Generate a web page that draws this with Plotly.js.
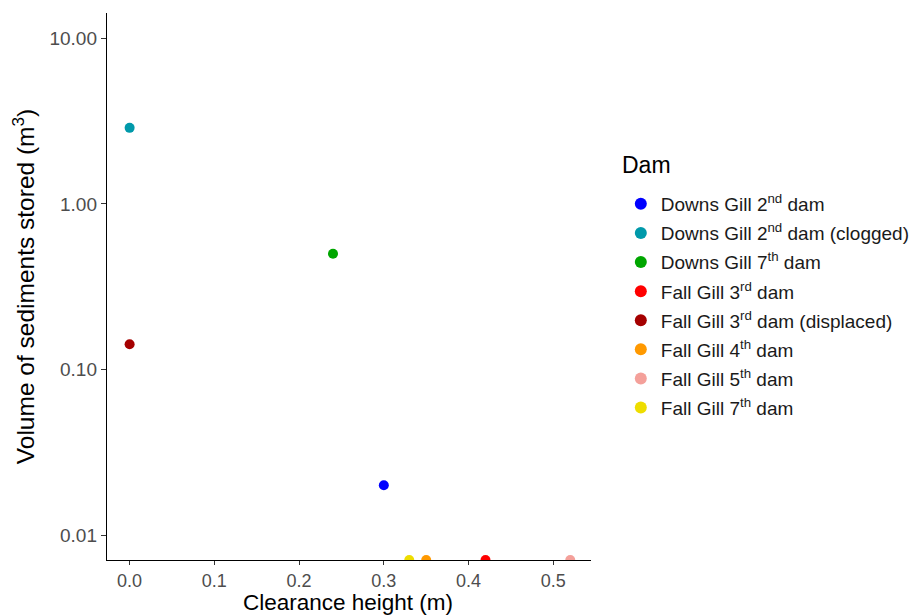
<!DOCTYPE html>
<html>
<head>
<meta charset="utf-8">
<script src="https://cdn.plot.ly/plotly-3.0.1.min.js"></script>
<style>html,body{margin:0;padding:0;background:#fff;}#chart{width:917px;height:616px;}</style>
</head>
<body>
<div id="chart"></div>
<script>
// Data
var dams = [
  "Downs Gill 2<sup>nd</sup> dam",
  "Downs Gill 2<sup>nd</sup> dam (clogged)",
  "Downs Gill 7<sup>th</sup> dam",
  "Fall Gill 3<sup>rd</sup> dam",
  "Fall Gill 3<sup>rd</sup> dam (displaced)",
  "Fall Gill 4<sup>th</sup> dam",
  "Fall Gill 5<sup>th</sup> dam",
  "Fall Gill 7<sup>th</sup> dam"
];
var clearance = [0.30, 0.00, 0.24, 0.42, 0.00, 0.35, 0.52, 0.33];
// bottom-row points sit on the lower edge of the axis (clipped)
var volume = [0.020, 2.88, 0.50, 0.00708, 0.142, 0.00708, 0.00708, 0.00708];
var colors = ["#0000FF", "#0099AA", "#00A600", "#FF0000", "#A50000", "#FF9900", "#F4A09A", "#EEDD00"];
var yTickVals = [0.01, 0.1, 1, 10];
var yTickText = ["0.01", "0.10", "1.00", "10.00"];
var xTickVals = [0, 0.1, 0.2, 0.3, 0.4, 0.5];
var legendTitle = "Dam";
var xTitle = "Clearance height (m)";

var traces = dams.map(function (d, i) {
  return {
    type: "scatter",
    mode: "markers",
    name: d,
    legendgroup: "g" + i,
    x: [clearance[i]],
    y: [volume[i]],
    marker: {color: colors[i], size: 10},
    cliponaxis: true
  };
});

var layout = {
  width: 917, height: 616,
  margin: {l: 107, r: 326, t: 13, b: 56},
  paper_bgcolor: "#fff", plot_bgcolor: "#fff",
  font: {family: "Liberation Sans, Arial, sans-serif", color: "#000"},
  showlegend: true,
  xaxis: {
    range: [-0.0267, 0.5445],
    tickvals: xTickVals, tickformat: ".1f",
    showgrid: false, zeroline: false,
    showline: true, linecolor: "#000", linewidth: 1.2,
    ticks: "outside", ticklen: 4, tickcolor: "#333", tickwidth: 1,
    tickfont: {size: 18, color: "#4d4d4d"}
  },
  yaxis: {
    type: "log",
    range: [-2.150, 1.153],
    tickvals: yTickVals, ticktext: yTickText,
    showgrid: false, zeroline: false,
    showline: true, linecolor: "#000", linewidth: 1.2,
    ticks: "outside", ticklen: 5, tickcolor: "#333", tickwidth: 1,
    tickfont: {size: 19, color: "#4d4d4d"},
    title: {text: "Volume of sediments stored (m<sup>3</sup>)", font: {size: 24.5, color: "#000"}, standoff: 7}
  },
  annotations: [{
    xref: "paper", yref: "paper",
    x: (620 - 107) / 484, y: 1 - (165 - 13) / 547,
    xanchor: "left", yanchor: "middle",
    text: legendTitle, showarrow: false,
    font: {size: 23, color: "#000"}
  }, {
    xref: "paper", yref: "paper",
    x: (347.5 - 107) / 484, y: -(616 - 560) / 547,
    xanchor: "center", yanchor: "bottom",
    text: xTitle, showarrow: false,
    font: {size: 22.5, color: "#000"},
    borderpad: 0
  }],
  legend: {
    xref: "container", yref: "container",
    x: 0.677, y: 1 - 185 / 616, xanchor: "left", yanchor: "top",
    font: {size: 19, color: "#1a1a1a"},
    tracegroupgap: 1.4,
    bgcolor: "rgba(0,0,0,0)",
    itemsizing: "constant"
  }
};

Plotly.newPlot("chart", traces, layout, {displayModeBar: false, staticPlot: true});
</script>
</body>
</html>
